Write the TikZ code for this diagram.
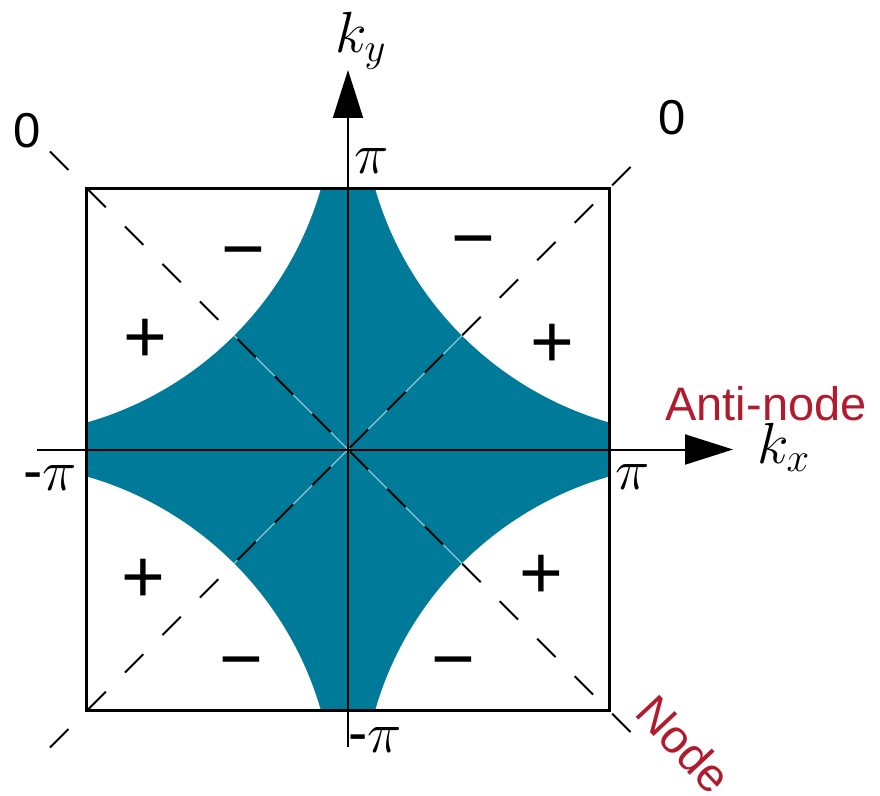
\RequirePackage{fix-cm}
\documentclass[tikz,border=0pt]{standalone}
\usepackage{fontspec}
\setmainfont{Liberation Sans}
\usetikzlibrary{arrows.meta}
\definecolor{fsteal}{RGB}{0,122,153}
\definecolor{fsred}{RGB}{176,28,46}
\begin{document}
\begin{tikzpicture}[x=1pt,y=1pt,
  axis/.style={line width=2pt, -{Triangle[length=48pt,width=30pt]}},
  diag/.style={line width=2pt, dash pattern=on 26pt off 27pt},
  lightline/.style={white, opacity=.55, line width=1.2pt},
  sign/.style={font=\fontsize{75}{75}\selectfont, anchor=base, inner sep=0pt},
  zero/.style={font=\fontsize{49}{49}\selectfont, anchor=base, inner sep=0pt},
  mlab/.style={font=\fontsize{58}{58}\selectfont, inner sep=0pt},
  redlab/.style={font=\fontsize{47}{47}\selectfont, text=fsred, inner sep=0pt}]
\useasboundingbox (-348,-345.5) rectangle (532,449.5);
% teal region
\fill[fsteal] (-261,-261) rectangle (261,261);
\begin{scope}
  \clip (-261,-261) rectangle (261,261);
  \foreach \sx/\sy in {1/1,1/-1,-1/1,-1/-1}
    \fill[white] (355.6*\sx,355.6*\sy) circle[radius=341.7pt];
\end{scope}
% diagonals
\coordinate (dTL) at (-298,298);
\coordinate (dBR) at (298,-298);
\coordinate (dBL) at (-298,-298);
\coordinate (dTR) at (298,298);
\draw[lightline] (dTL) -- (dBR);
\draw[lightline] (dBL) -- (dTR);
\draw[diag] (dTL) -- (dBR);
\draw[diag] (dBL) -- (dTR);
% axes
\coordinate (xa) at (-311,0);
\coordinate (xb) at (385,0);
\coordinate (ya) at (0,-297.5);
\coordinate (yb) at (0,379.5);
\draw[axis] (xa) -- (xb);
\draw[axis] (ya) -- (yb);
% square
\draw[line width=3pt] (-261,-261) rectangle (261,261);
% labels
\node[mlab, anchor=base west] (ky) at (-13,396.5) {$k_y$};
\node[mlab, anchor=base west] (kx) at (409,-13.5) {$k_x$};
\node[mlab] (pt) at (24,288.5) {$\pi$};
\node[mlab] (pl) at (-298,-28.5) {-$\pi$};
\node[mlab] (pr) at (285,-27.5) {$\pi$};
\node[mlab] (pb) at (27,-290.5) {-$\pi$};
\node[zero] (z1) at (-321,301.5) {0};
\node[zero] (z2) at (324,314.5) {0};
\node[sign] (m1) at (-105,174.5) {−};
\node[sign] (p1) at (-203,87.5) {+};
\node[sign] (m2) at (125,185.5) {−};
\node[sign] (p2) at (204,82.5) {+};
\node[sign] (p3) at (-205,-152.5) {+};
\node[sign] (m3) at (-107,-234.5) {−};
\node[sign] (p4) at (193,-148.5) {+};
\node[sign] (m4) at (105,-234.5) {−};
\node[redlab, anchor=base] (an) at (418,29.5) {Anti-node};
\node[redlab, rotate=-47] (nd) at (336,-294.5) {Node};
\end{tikzpicture}
\end{document}
